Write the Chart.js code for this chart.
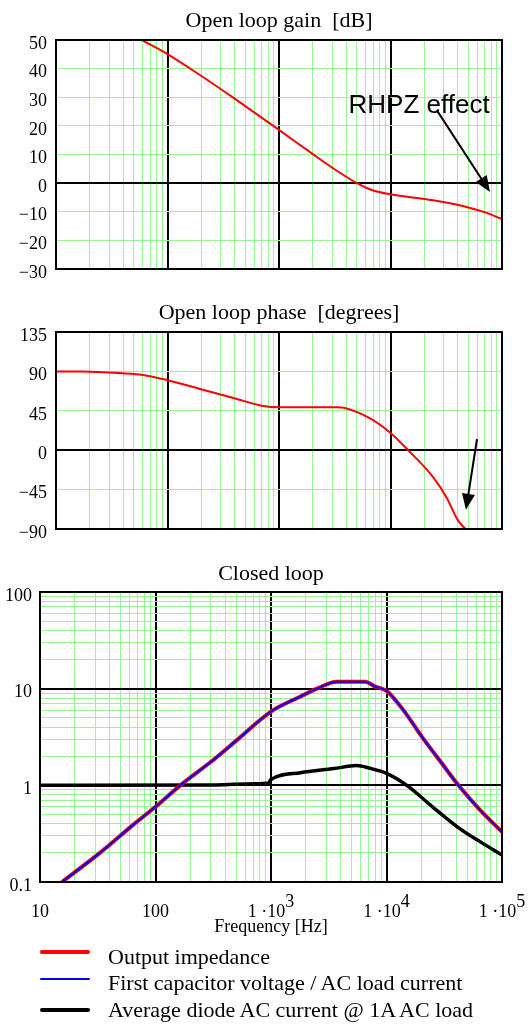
<!DOCTYPE html>
<html>
<head>
<meta charset="utf-8">
<script src="https://cdn.jsdelivr.net/npm/chart.js@4.4.1/dist/chart.umd.min.js"></script>
<style>
  body { margin: 0; background: #fff; width: 531px; height: 1024px; position: relative; overflow: hidden; }
  canvas { position: absolute; left: 0; }
  #c1 { top: 0; }
  #c2 { top: 280px; }
  #c3 { top: 540px; }
  .leg { position: absolute; left: 40px; width: 480px; height: 0; font: 22px "Liberation Serif", "Times New Roman", serif; color: #000; }
  .leg .ln { position: absolute; left: 0; width: 50px; border-radius: 2px; }
  .leg .tx { position: absolute; left: 68px; white-space: nowrap; line-height: 22px; }
</style>
</head>
<body>
<canvas id="c1" width="531" height="290"></canvas>
<canvas id="c2" width="531" height="270"></canvas>
<canvas id="c3" width="531" height="405"></canvas>

<div class="leg" style="top:952px"><span class="ln" style="height:4px;top:-2px;background:#ff0000"></span><span class="tx" style="top:-6px">Output impedance</span></div>
<div class="leg" style="top:979px"><span class="ln" style="height:2px;top:-1px;background:#0000ff"></span><span class="tx" style="top:-7px">First capacitor voltage / AC load current</span></div>
<div class="leg" style="top:1010px"><span class="ln" style="height:4px;top:-2px;background:#000"></span><span class="tx" style="top:-11px">Average diode AC current @ 1A AC load</span></div>

<script>
// open loop gain [dB]
const gainFreq = [59, 100, 200, 400, 1000, 2000, 3000, 5000, 7000, 10000, 24000, 49000, 74000, 100000];
const gainDb   = [50, 45.1, 37.5, 29.5, 18.6, 10.2, 5.4, 0, -2.6, -3.9, -6.0, -8.4, -10.5, -12.6];

// open loop phase [degrees]
const phaseFreq = [10, 17, 39, 60, 100, 195, 390, 720, 1000, 3400, 6200, 10000, 14400, 24000, 32000, 40000, 47000];
const phaseDeg  = [90, 90, 88, 86, 80, 70, 59.7, 50.5, 49, 49, 38, 19.7, 0, -30.5, -54.5, -79.6, -90];

// closed loop
const clFreq  = [15.5, 33, 64, 100, 164, 320, 500, 1000, 1800, 2500, 3700, 6500, 8000, 10000, 14000, 20000, 30000, 42000, 65000, 100000];
const zOut    = [0.1, 0.2, 0.39, 0.6, 1, 1.85, 2.9, 5.8, 8.3, 10, 11.8, 11.8, 10.5, 9.5, 6, 3.25, 1.7, 1.0, 0.55, 0.33];
const zCap    = [0.1, 0.2, 0.39, 0.6, 1, 1.85, 2.9, 5.8, 8.3, 10, 11.8, 11.8, 10.5, 9.5, 6, 3.25, 1.7, 1.0, 0.55, 0.33];
const diodeFreq = [10, 330, 710, 950, 1000, 1800, 3500, 5500, 7200, 10000, 15000, 25000, 44000, 65000, 100000];
const diodeVal  = [1, 1.01, 1.04, 1.06, 1.15, 1.35, 1.49, 1.6, 1.5, 1.33, 1.0, 0.6, 0.35, 0.26, 0.19];

// tick labels
const gainTicks = [-30, -20, -10, 0, 10, 20, 30, 40, 50];
const phaseTicks = [-90, -45, 0, 45, 90, 135];
const clTicks = [0.1, 1, 10, 100];
const xTickVals = [10, 100, 1000, 10000, 100000];
const xTickText = ['10', '100', '1 \u00b710', '1 \u00b710', '1 \u00b710'];
const xTickExp  = ['', '', '3', '4', '5'];

const serif = '"Liberation Serif", "Times New Roman", serif';
const green = '#96f596';

const pts = (xs, ys) => xs.map((x, i) => ({ x: x, y: ys[i] }));
const isDecade = v => Math.abs(Math.log10(v) - Math.round(Math.log10(v))) < 1e-9;
const fmt = v => v < 0 ? '\u2212' + Math.abs(v) : String(v);

// 1..9 x 10^n grid for a log axis
function logGrid(lo, hi) {
  const out = [];
  for (let e = Math.log10(lo); e < Math.log10(hi); e++)
    for (let m = 1; m < 10; m++) out.push(m * Math.pow(10, e));
  out.push(hi);
  return out;
}

function grid(isMajor) {
  return {
    drawTicks: false,
    color: c => isMajor(c.tick.value) ? '#000' : green,
    lineWidth: c => isMajor(c.tick.value) ? 2 : 1
  };
}

const frame = {
  id: 'frame',
  afterDatasetsDraw(chart) {
    const { ctx, chartArea: a } = chart;
    ctx.save();
    ctx.strokeStyle = '#000';
    ctx.lineWidth = 2;
    ctx.strokeRect(a.left, a.top, a.right - a.left, a.bottom - a.top);
    ctx.restore();
  }
};

function drawArrow(chart, from, to) {
  const { ctx, scales: { x, y } } = chart;
  const x0 = x.getPixelForValue(from.x), y0 = y.getPixelForValue(from.y);
  const x1 = x.getPixelForValue(to.x), y1 = y.getPixelForValue(to.y);
  const ang = Math.atan2(y1 - y0, x1 - x0);
  const L = 16, W = 6.5;
  ctx.save();
  ctx.strokeStyle = '#000';
  ctx.fillStyle = '#000';
  ctx.lineWidth = 2;
  ctx.beginPath();
  ctx.moveTo(x0, y0);
  ctx.lineTo(x1 - Math.cos(ang) * L * 0.8, y1 - Math.sin(ang) * L * 0.8);
  ctx.stroke();
  ctx.beginPath();
  ctx.moveTo(x1, y1);
  ctx.lineTo(x1 - Math.cos(ang) * L + Math.sin(ang) * W, y1 - Math.sin(ang) * L - Math.cos(ang) * W);
  ctx.lineTo(x1 - Math.cos(ang) * L - Math.sin(ang) * W, y1 - Math.sin(ang) * L + Math.cos(ang) * W);
  ctx.closePath();
  ctx.fill();
  ctx.restore();
}

const rhpz = {
  id: 'rhpz',
  afterDraw(chart) {
    const { ctx, scales: { x, y } } = chart;
    ctx.save();
    ctx.font = '26px "Liberation Sans", Arial, sans-serif';
    ctx.fillStyle = '#000';
    ctx.textBaseline = 'middle';
    ctx.fillText('RHPZ effect', x.getPixelForValue(4200), y.getPixelForValue(27));
    ctx.restore();
    drawArrow(chart, { x: 26000, y: 25.5 }, { x: 78000, y: -3.1 });
  }
};

const phaseArrow = {
  id: 'phaseArrow',
  afterDraw(chart) {
    drawArrow(chart, { x: 59700, y: 12.8 }, { x: 47500, y: -68 });
  }
};

const xLabels = {
  id: 'xLabels',
  afterDraw(chart) {
    const { ctx, scales: { x }, chartArea: a } = chart;
    ctx.save();
    ctx.font = '18px ' + serif;
    ctx.fillStyle = '#000';
    ctx.textAlign = 'left';
    ctx.textBaseline = 'alphabetic';
    xTickVals.forEach((v, i) => {
      const wb = ctx.measureText(xTickText[i]).width;
      const ws = xTickExp[i] ? ctx.measureText(xTickExp[i]).width : 0;
      const px = x.getPixelForValue(v) - (wb + ws) / 2;
      ctx.fillText(xTickText[i], px, a.bottom + 35);
      if (xTickExp[i]) ctx.fillText(xTickExp[i], px + wb, a.bottom + 25);
    });
    ctx.restore();
  }
};

function titleOpt(text, top, bottom) {
  return {
    display: true, text: text, fullSize: false, color: '#000',
    font: { family: serif, size: 22, weight: 'normal' },
    padding: { top: top, bottom: bottom }
  };
}

function xLog(height) {
  return {
    type: 'logarithmic', min: 10, max: 100000,
    afterBuildTicks: s => { s.ticks = logGrid(10, 100000).map(v => ({ value: v })); },
    afterFit: s => { s.height = height; },
    ticks: { display: false },
    grid: grid(isDecade),
    border: { display: false }
  };
}

function yTicks(labels) {
  return {
    autoSkip: false, padding: 9, labelOffset: 4, color: '#000',
    font: { family: serif, size: 18 },
    callback: v => labels.includes(v) ? fmt(v) : ''
  };
}

Chart.defaults.font.family = serif;
Chart.defaults.elements.line.cubicInterpolationMode = 'monotone';

new Chart(document.getElementById('c1'), {
  type: 'line',
  data: {
    datasets: [{
      data: pts(gainFreq, gainDb),
      borderColor: '#ff0000', borderWidth: 2, pointRadius: 0
    }]
  },
  options: {
    responsive: false, animation: false,
    layout: { padding: { left: 0, right: 29, top: 0, bottom: 21 } },
    plugins: {
      legend: { display: false }, tooltip: { enabled: false },
      title: titleOpt('Open loop gain  [dB]', 7.8, 5.8)
    },
    scales: {
      x: xLog(0),
      y: {
        min: -30, max: 50,
        afterBuildTicks: s => { s.ticks = gainTicks.map(v => ({ value: v })); },
        afterFit: s => { s.width = 56; },
        ticks: yTicks(gainTicks),
        grid: grid(v => v === 0),
        border: { display: false }
      }
    }
  },
  plugins: [frame, rhpz]
});

new Chart(document.getElementById('c2'), {
  type: 'line',
  data: {
    datasets: [{
      data: pts(phaseFreq, phaseDeg),
      borderColor: '#ff0000', borderWidth: 2, pointRadius: 0
    }]
  },
  options: {
    responsive: false, animation: false,
    layout: { padding: { left: 0, right: 29, top: 0, bottom: 21 } },
    plugins: {
      legend: { display: false }, tooltip: { enabled: false },
      title: titleOpt('Open loop phase  [degrees]', 19.8, 5.8)
    },
    scales: {
      x: xLog(0),
      y: {
        min: -90, max: 135,
        afterBuildTicks: s => { s.ticks = phaseTicks.map(v => ({ value: v })); },
        afterFit: s => { s.width = 56; },
        ticks: yTicks(phaseTicks),
        grid: grid(v => v === 0),
        border: { display: false }
      }
    }
  },
  plugins: [frame, phaseArrow]
});

const x3 = xLog(63);
x3.title = {
  display: true, text: 'Frequency [Hz]', color: '#000',
  font: { family: serif, size: 18 },
  padding: { top: 0, bottom: 7 }
};

new Chart(document.getElementById('c3'), {
  type: 'line',
  data: {
    datasets: [
      { label: 'First capacitor voltage / AC load current', data: pts(clFreq, zCap),
        borderColor: '#0000ff', borderWidth: 2, pointRadius: 0 },
      { label: 'Output impedance', data: pts(clFreq, zOut),
        borderColor: '#ff0000', borderWidth: 4, pointRadius: 0 },
      { label: 'Average diode AC current @ 1A AC load', data: pts(diodeFreq, diodeVal),
        borderColor: '#000', borderWidth: 3.5, pointRadius: 0 }
    ]
  },
  options: {
    responsive: false, animation: false,
    layout: { padding: { left: 0, right: 29, top: 0, bottom: 0 } },
    plugins: {
      legend: { display: false }, tooltip: { enabled: false },
      title: titleOpt('Closed loop', 20.8, 4.8)
    },
    scales: {
      x: x3,
      y: {
        type: 'logarithmic', min: 0.1, max: 100,
        afterBuildTicks: s => { s.ticks = logGrid(0.1, 100).map(v => ({ value: v })); },
        afterFit: s => { s.width = 40; },
        ticks: {
          autoSkip: false, padding: 8, labelOffset: 4, color: '#000',
          font: { family: serif, size: 18 },
          callback: v => clTicks.some(t => Math.abs(t - v) < 1e-9) ? String(v) : ''
        },
        grid: grid(isDecade),
        border: { display: false }
      }
    }
  },
  plugins: [frame, xLabels]
});
</script>
</body>
</html>
